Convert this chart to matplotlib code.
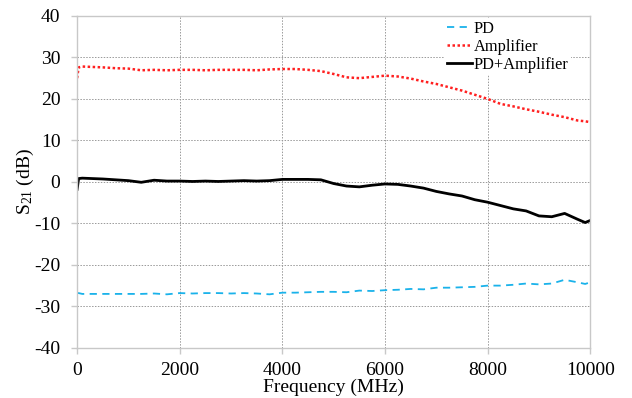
import matplotlib
matplotlib.use("Agg")
import matplotlib.pyplot as plt

plt.rcParams['font.family'] = ['Liberation Serif', 'DejaVu Serif']
plt.rcParams['mathtext.fontset'] = 'custom'
plt.rcParams['mathtext.it'] = 'Liberation Serif:italic'
plt.rcParams['mathtext.rm'] = 'Liberation Serif'
plt.rcParams['axes.unicode_minus'] = False

freq = [0, 30, 100, 300, 500, 750, 1000, 1250, 1500, 1750, 2000, 2250, 2500,
        2750, 3000, 3250, 3500, 3750, 4000, 4250, 4500, 4750, 5000, 5250, 5500,
        5750, 6000, 6250, 6500, 6750, 7000, 7250, 7500, 7750, 8000, 8250, 8500,
        8750, 9000, 9250, 9500, 9750, 9900, 10000]

pd_s21 = [-26.8, -26.8, -27.0, -27.0, -27.0, -27.0, -27.0, -27.0, -26.9, -27.1,
          -26.8, -26.9, -26.8, -26.8, -26.9, -26.8, -26.9, -27.1, -26.7, -26.7,
          -26.6, -26.5, -26.5, -26.6, -26.2, -26.3, -26.1, -26.0, -25.8, -25.9,
          -25.5, -25.5, -25.4, -25.3, -25.0, -25.0, -24.8, -24.5, -24.7, -24.5,
          -23.6, -24.2, -24.6, -24.2]

amp_s21 = [25.0, 27.6, 27.8, 27.7, 27.6, 27.4, 27.3, 26.9, 27.0, 26.9,
           27.0, 27.0, 26.9, 27.0, 27.0, 27.0, 26.9, 27.1, 27.2, 27.2,
           27.0, 26.7, 26.0, 25.2, 25.0, 25.3, 25.6, 25.4, 24.9, 24.2,
           23.6, 22.8, 22.0, 21.0, 20.0, 18.8, 18.2, 17.5, 16.9, 16.2,
           15.6, 14.8, 14.6, 14.4]

pdamp_s21 = [-1.8, 0.8, 0.9, 0.8, 0.7, 0.5, 0.3, -0.1, 0.4, 0.2,
             0.2, 0.1, 0.2, 0.1, 0.2, 0.3, 0.2, 0.3, 0.6, 0.6,
             0.6, 0.5, -0.4, -1.0, -1.2, -0.8, -0.5, -0.6, -1.0, -1.5,
             -2.3, -2.9, -3.4, -4.3, -4.9, -5.7, -6.5, -7.0, -8.2, -8.4,
             -7.6, -9.0, -9.8, -9.3]

fig = plt.figure(figsize=(6.32, 3.98), dpi=100)
ax = fig.add_axes([0.122, 0.126, 0.812, 0.834])

ax.plot(freq, pd_s21, color='#1ab2ea', linestyle=(0, (4, 3)), linewidth=1.3, label='PD')
ax.plot(freq, amp_s21, color='#ff2020', linestyle=(0, (1, 1)), linewidth=1.8, label='Amplifier')
ax.plot(freq, pdamp_s21, color='black', linestyle='-', linewidth=2.0, label='PD+Amplifier')

ax.set_xlim(0, 10000)
ax.set_ylim(-40, 40)
ax.set_xticks([0, 2000, 4000, 6000, 8000, 10000])
ax.set_yticks(range(-40, 41, 10))
ax.grid(True, color='#999999', linestyle=(0, (1.5, 1.5)), linewidth=0.7)
for s in ax.spines.values():
    s.set_color('#c8c8c8')
    s.set_linewidth(1.0)
ax.tick_params(axis='both', labelsize=14, color='#c8c8c8', length=4, width=1.0)
ax.tick_params(axis='y', pad=8)
ax.tick_params(axis='x', pad=6)

ax.set_xlabel('Frequency (MHz)', fontsize=14, labelpad=0)
ax.set_ylabel('$\\mathrm{S}_{21}$ (dB)', fontsize=14, labelpad=-1)

leg = ax.legend(loc='upper right', bbox_to_anchor=(0.962, 0.993), fontsize=11.8,
                frameon=True, fancybox=False, edgecolor='none',
                facecolor='white', framealpha=1.0,
                handlelength=1.5, handletextpad=0.1, labelspacing=0.12,
                borderpad=0.15, borderaxespad=0.0)

fig.savefig('out.png', dpi=100)
